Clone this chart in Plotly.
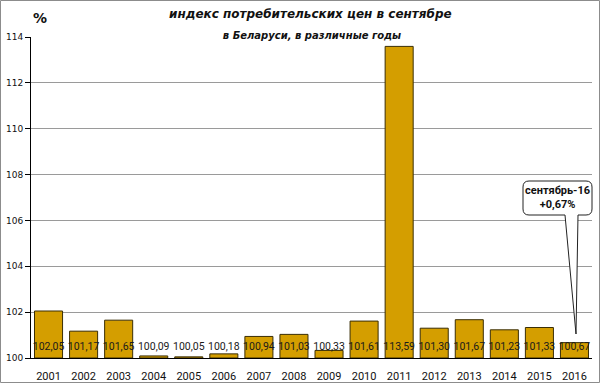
import plotly.graph_objects as go

years = ["2001", "2002", "2003", "2004", "2005", "2006", "2007", "2008",
         "2009", "2010", "2011", "2012", "2013", "2014", "2015", "2016"]
cpi = [102.05, 101.17, 101.65, 100.09, 100.05, 100.18, 100.94, 101.03,
       100.33, 101.61, 113.59, 101.30, 101.67, 101.23, 101.33, 100.67]
y_ticks = [100, 102, 104, 106, 108, 110, 112, 114]
label_level = 100.45
title_main = "индекс потребительских цен в сентябре"
title_sub = "в Беларуси, в различные годы"
callout_text = "сентябрь-16<br>+0,67%"

W, H = 600, 383
L, R, T, B = 31, 8, 37, 25
PW, PH = W - L - R, H - T - B


def px(x):
    return (x - L) / PW


def py(y):
    return (H - B - y) / PH


fig = go.Figure()
fig.add_trace(go.Bar(
    x=years, y=[v - 100 for v in cpi], base=100,
    marker=dict(color="#D49E00", line=dict(color="#3A2E05", width=1)),
    hoverinfo="skip",
))
fig.add_trace(go.Scatter(
    x=years, y=[label_level] * len(years), mode="text",
    text=[f"{v:.2f}".replace(".", ",") for v in cpi],
    textfont=dict(family="Roboto", size=10.5, color="#1a1a1a"),
    hoverinfo="skip", cliponaxis=False,
))

# callout shape (rounded box + wedge) in paper coords
r = 6
x0, x1, y0, y1 = 523, 592, 181, 215
wx0, wx1, tipx, tipy = 565, 578, 576, 334
pts = [
    f"M {px(x0 + r)} {py(y0)}",
    f"L {px(x1 - r)} {py(y0)}",
    f"Q {px(x1)} {py(y0)} {px(x1)} {py(y0 + r)}",
    f"L {px(x1)} {py(y1 - r)}",
    f"Q {px(x1)} {py(y1)} {px(x1 - r)} {py(y1)}",
    f"L {px(wx1)} {py(y1)}",
    f"L {px(tipx)} {py(tipy)}",
    f"L {px(wx0)} {py(y1)}",
    f"L {px(x0 + r)} {py(y1)}",
    f"Q {px(x0)} {py(y1)} {px(x0)} {py(y1 - r)}",
    f"L {px(x0)} {py(y0 + r)}",
    f"Q {px(x0)} {py(y0)} {px(x0 + r)} {py(y0)}",
    "Z",
]
shapes = [
    dict(type="path", xref="paper", yref="paper", path=" ".join(pts),
         fillcolor="white", line=dict(color="#222222", width=1)),
    dict(type="rect", xref="paper", yref="paper",
         x0=px(0.5), x1=px(W - 0.5), y0=py(H - 0.5), y1=py(0.5),
         line=dict(color="#8c8c8c", width=1), fillcolor="rgba(0,0,0,0)"),
]

annotations = [
    dict(text=f"<b><i>{title_main}</i></b>", xref="paper", yref="paper",
         x=px(310), y=py(14), showarrow=False,
         font=dict(family="DejaVu Sans", size=12, color="#111"),
         xanchor="center", yanchor="middle"),
    dict(text=f"<b><i>{title_sub}</i></b>", xref="paper", yref="paper",
         x=px(312), y=py(35), showarrow=False,
         font=dict(family="DejaVu Sans", size=10, color="#111"),
         xanchor="center", yanchor="middle", bgcolor="white", borderpad=2,
         width=284),
    dict(text="<b>%</b>", xref="paper", yref="paper",
         x=px(40), y=py(18), showarrow=False,
         font=dict(family="DejaVu Sans", size=14, color="#111"),
         xanchor="center", yanchor="middle"),
    dict(text=f"<b>{callout_text}</b>", xref="paper", yref="paper",
         x=px(557.5), y=py(198), showarrow=False,
         font=dict(family="Roboto", size=11, color="#111"),
         xanchor="center", yanchor="middle"),
]

fig.update_layout(
    width=W, height=H,
    margin=dict(l=L, r=R, t=T, b=B, autoexpand=False),
    paper_bgcolor="white", plot_bgcolor="white",
    showlegend=False, bargap=0.2,
    shapes=shapes, annotations=annotations,
    xaxis=dict(type="category", range=[-0.5, len(years) - 0.5],
               showline=True, linecolor="#000", linewidth=1,
               ticks="", ticklabelstandoff=8,
               tickfont=dict(family="Roboto", size=11, color="#111"),
               showgrid=False, fixedrange=True, automargin=False),
    yaxis=dict(range=[100, 114], tickvals=y_ticks, showline=True,
               linecolor="#000", linewidth=1, ticks="outside", ticklen=5,
               tickcolor="#000", showgrid=True, gridcolor="#9a9a9a",
               tickfont=dict(family="DejaVu Sans", size=9, color="#111"),
               tickprefix="<b>", ticksuffix="</b>", zeroline=False,
               fixedrange=True, automargin=False),
)

fig.write_html(
    "out.html",
    config={"responsive": False, "displayModeBar": False},
    post_script="document.body.style.margin='0';document.body.style.overflow='hidden';",
)
